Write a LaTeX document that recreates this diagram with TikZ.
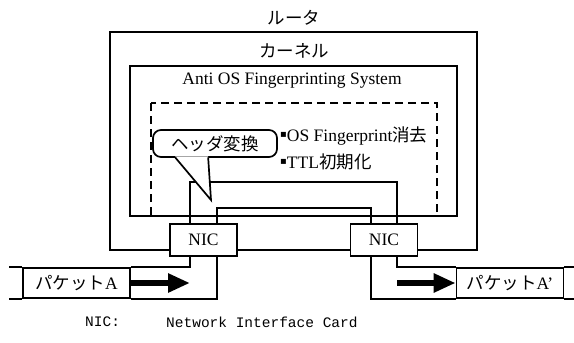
\documentclass[tikz,border=0pt]{standalone}
\usepackage{fontspec}
\setmainfont{Liberation Serif}
\setmonofont{Liberation Mono}
\newfontfamily\jp{Noto Sans CJK JP}
\newfontfamily\sym{DejaVu Sans}
\usetikzlibrary{arrows.meta}

\begin{document}
\begin{tikzpicture}[x=1pt, y=-1pt, font=\fontsize{17.5}{20}\selectfont,
  every node/.style={inner sep=0pt},
  jptext/.style={font=\jp\fontsize{17.5}{20}\selectfont},
  frame/.style={line width=1.7pt},
  wire/.style={line width=1.5pt},
  nicbox/.style={draw, line width=1.7pt, fill=white, minimum width=67pt, minimum height=32pt},
  pktbox/.style={draw, line width=1.7pt, fill=white, minimum width=107pt, minimum height=30pt},
  bigarrow/.style={line width=6pt, -{Triangle[length=22pt, width=18pt]}}]
\useasboundingbox (0,0) rectangle (574,343);
\node[jptext] (router) at (294,18) {ルータ};
\draw[frame] (110,32) rectangle (477,250);
\node[jptext] (kernel) at (294,51) {カーネル};
\draw[frame] (130,66) rectangle (457,216);
\node (aofs) at (292,81) {Anti OS Fingerprinting System};
\draw[frame, dash pattern=on 8pt off 5pt] (151,103) rectangle (437,216);
\node[nicbox] (nicL) at (203.5,240) {NIC};
\node[nicbox] (nicR) at (384,240) {NIC};
\coordinate (oL) at (190,0);
\coordinate (iL) at (217,0);
\coordinate (iR) at (371,0);
\coordinate (oR) at (397,0);
\draw[wire] (nicL.north -| oL) -- ++(0,-41) -| (nicR.north -| oR);
\draw[wire] (nicL.north -| iL) -- ++(0,-15) -| (nicR.north -| iR);
\node[pktbox] (pA) at (76.5,283) {{\jp パケット}A};
\node[pktbox] (pB) at (510,283) {{\jp パケット}A’};
\draw[wire] (nicL.south -| oL) |- (pA.north east);
\draw[wire] (nicL.south -| iL) |- (pA.south east);
\draw[wire] (nicR.south -| oR) |- (pB.north west);
\draw[wire] (nicR.south -| iR) |- (pB.south west);
\draw[wire] (pA.north west) -- ++(-13,0);
\draw[wire] (pA.south west) -- ++(-13,0);
\draw[wire] (pB.north east) -- ++(11,0);
\draw[wire] (pB.south east) -- ++(11,0);
\draw[bigarrow] (pA.east) -- (pA.east -| oL);
\draw[bigarrow] (pB.west -| oR) -- (pB.west);
\node[draw, frame, fill=white, rounded corners=8pt, minimum width=124pt, minimum height=27pt, jptext] (bubble) at (215,143.5) {ヘッダ変換};
\fill[white] ([xshift=23pt, yshift=1.5pt]bubble.south west) -- (211,200) -- ([xshift=56pt, yshift=1.5pt]bubble.south west) -- cycle;
\draw[frame] ([xshift=23pt, yshift=0.5pt]bubble.south west) -- (211,200) -- ([xshift=56pt, yshift=0.5pt]bubble.south west);
\node[anchor=west] (item1) at (280,136) {\raisebox{4pt}{\sym\fontsize{10}{10}\selectfont ▪}OS Fingerprint{\jp 消去}};
\node[anchor=west] (item2) at (280,162) {\raisebox{4pt}{\sym\fontsize{10}{10}\selectfont ▪}TTL{\jp 初期化}};
\node[anchor=west, font=\ttfamily\fontsize{14.5}{18}\selectfont] (abbr) at (85,322) {NIC:};
\node[anchor=west, font=\ttfamily\fontsize{14.5}{18}\selectfont] (full) at (166,322) {Network Interface Card};
\end{tikzpicture}
\end{document}
